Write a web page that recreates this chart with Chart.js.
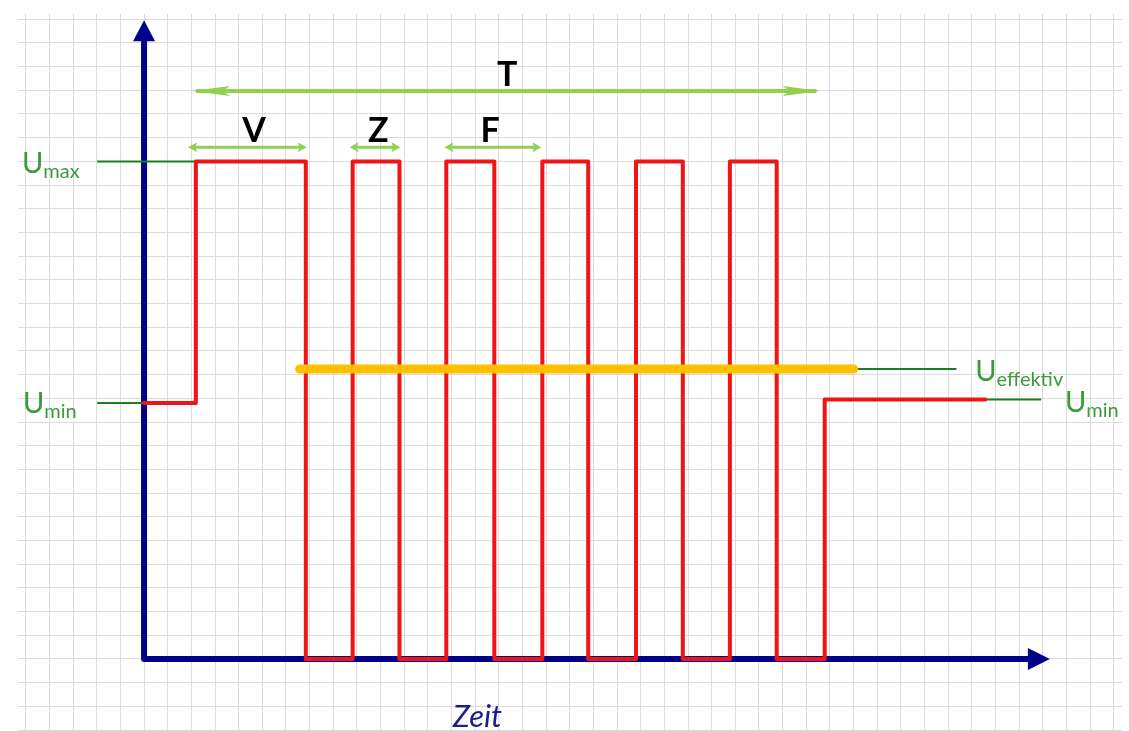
<!DOCTYPE html>
<html>
<head>
<meta charset="utf-8">
<script src="https://cdn.jsdelivr.net/npm/chart.js@4.4.0/dist/chart.umd.min.js"></script>
<style>
    html, body { margin: 0; padding: 0; background: #fff; }
    #wrap { width: 1129px; height: 731px; position: relative; }
</style>
</head>
<body>
<div id="wrap"><canvas id="chart"></canvas></div>
<script>
// Werte in Kästchen (Rasterzellen) ab Ursprung der Achsen
var waveTimes  = [0, 2.19, 6.84, 8.82, 10.8, 12.78, 14.81, 16.84, 18.78, 20.8, 22.78, 24.77, 26.75, 28.78, 35.57];
var waveLevels = [10.8, 21, 0, 21, 0, 21, 0, 21, 0, 21, 0, 21, 0, 10.95, 10.95];

var effLevel = 12.24;
var effStart = 6.58;
var effEnd = 30.0;

// dunkelgrüne Hilfslinien (Umax, Umin, Ueffektiv, Umin rechts)
var refStarts = [-1.98, -1.98, 30.0, 35.57];
var refEnds   = [2.19, 0, 34.35, 37.93];
var refLevels = [21, 10.8, 12.24, 10.95];

// Beschriftung der Spannungen
var levelMain = ['U', 'U', 'U', 'U'];
var levelSub  = ['max', 'min', 'effektiv', 'min'];
var levelX    = [-5.16, -5.12, 35.14, 38.94];
var levelY    = [20.5, 10.38, 11.73, 10.42];

// Zeitspannen-Pfeile T, V, Z, F
var spanNames  = ['T', 'V', 'Z', 'F'];
var spanStarts = [2.03, 1.86, 8.69, 12.7];
var spanEnds   = [28.6, 6.88, 10.84, 16.8];
var spanLevels = [23.97, 21.6, 21.6, 21.6];
var spanLabelX = [15.35, 4.65, 9.9, 14.63];

var axisTipX = 38.3;
var axisTipY = 26.96;
var axisTitle = 'Zeit';
var axisTitleX = 13.05;
var axisTitleY = -2.87;

var NAVY = '#000088';
var LIGHTGREEN = '#92d050';

function intTicks(scale) {
    var t = [];
    for (var v = Math.ceil(scale.min); v <= Math.floor(scale.max); v++) t.push({ value: v });
    scale.ticks = t;
}

var wavePoints = [];
for (var i = 0; i < waveTimes.length; i++) {
    wavePoints.push({ x: waveTimes[i], y: waveLevels[i] });
}

var datasets = [];
// Effektivwert (oben drüber)
datasets.push({
    data: [{ x: effStart, y: effLevel }, { x: effEnd, y: effLevel }],
    borderColor: '#ffc000',
    borderWidth: 9,
    borderCapStyle: 'round'
});
// Rechtecksignal
datasets.push({
    data: wavePoints,
    stepped: 'before',
    borderColor: '#f01414',
    borderWidth: 4,
    borderJoinStyle: 'round',
    borderCapStyle: 'round'
});
for (var i = 0; i < refStarts.length; i++) {
    datasets.push({
        data: [{ x: refStarts[i], y: refLevels[i] }, { x: refEnds[i], y: refLevels[i] }],
        borderColor: '#1e7d1e',
        borderWidth: 2
    });
}

function arrowHead(ctx, tipX, tipY, dir, len, half) {
    ctx.beginPath();
    ctx.moveTo(tipX, tipY);
    ctx.lineTo(tipX - dir * len, tipY - half);
    ctx.lineTo(tipX - dir * len * 0.8, tipY);
    ctx.lineTo(tipX - dir * len, tipY + half);
    ctx.closePath();
    ctx.fill();
}

var drawings = {
    id: 'drawings',
    beforeDatasetsDraw: function(chart) {
        var ctx = chart.ctx;
        var xs = chart.scales.x, ys = chart.scales.y;
        var ox = xs.getPixelForValue(0), oy = ys.getPixelForValue(0);
        var tx = xs.getPixelForValue(axisTipX), ty = ys.getPixelForValue(axisTipY);
        ctx.save();
        ctx.strokeStyle = NAVY;
        ctx.fillStyle = NAVY;
        ctx.lineWidth = 6;
        ctx.lineJoin = 'round';
        ctx.beginPath();
        ctx.moveTo(ox, ty + 18);
        ctx.lineTo(ox, oy);
        ctx.lineTo(tx - 18, oy);
        ctx.stroke();
        // Pfeilspitzen
        ctx.beginPath();
        ctx.moveTo(ox, ty);
        ctx.lineTo(ox - 11, ty + 21);
        ctx.lineTo(ox + 11, ty + 21);
        ctx.closePath();
        ctx.fill();
        ctx.beginPath();
        ctx.moveTo(tx, oy);
        ctx.lineTo(tx - 22, oy - 11);
        ctx.lineTo(tx - 22, oy + 11);
        ctx.closePath();
        ctx.fill();
        ctx.restore();
    },
    afterDatasetsDraw: function(chart) {
        var ctx = chart.ctx;
        var xs = chart.scales.x, ys = chart.scales.y;
        ctx.save();

        // Zeitspannen
        for (var i = 0; i < spanNames.length; i++) {
            var x1 = xs.getPixelForValue(spanStarts[i]);
            var x2 = xs.getPixelForValue(spanEnds[i]);
            var y = ys.getPixelForValue(spanLevels[i]);
            var big = i === 0;
            var len = big ? 38 : 9;
            var half = 5;
            ctx.strokeStyle = LIGHTGREEN;
            ctx.fillStyle = LIGHTGREEN;
            ctx.lineWidth = big ? 4 : 3;
            ctx.beginPath();
            ctx.moveTo(x1 + 4, y);
            ctx.lineTo(x2 - 4, y);
            ctx.stroke();
            arrowHead(ctx, x1, y, -1, len, half);
            arrowHead(ctx, x2, y, 1, len, half);

            ctx.fillStyle = '#000';
            ctx.font = 'bold 34px Lato';
            ctx.textAlign = 'center';
            ctx.textBaseline = 'alphabetic';
            ctx.fillText(spanNames[i], xs.getPixelForValue(spanLabelX[i]), y - 5);
        }

        // U-Beschriftungen
        ctx.fillStyle = '#3c9a3c';
        ctx.textAlign = 'left';
        for (var i = 0; i < levelMain.length; i++) {
            var px = xs.getPixelForValue(levelX[i]);
            var py = ys.getPixelForValue(levelY[i]);
            ctx.font = '29px Lato';
            ctx.fillText(levelMain[i], px, py);
            var w = ctx.measureText(levelMain[i]).width;
            ctx.font = '20px Lato';
            ctx.fillText(levelSub[i], px + w, py + 5);
        }

        // Achsentitel
        ctx.fillStyle = '#1c1c8c';
        ctx.font = 'italic 31px Lato';
        ctx.fillText(axisTitle, xs.getPixelForValue(axisTitleX), ys.getPixelForValue(axisTitleY));
        ctx.restore();
    }
};

new Chart(document.getElementById('chart'), {
    type: 'line',
    data: { datasets: datasets },
    options: {
        responsive: true,
        maintainAspectRatio: false,
        animation: false,
        layout: { padding: { left: 18, right: 7, top: 14, bottom: 0 } },
        elements: { point: { radius: 0 } },
        plugins: { legend: { display: false }, tooltip: { enabled: false } },
        scales: {
            x: {
                type: 'linear', min: -5.33, max: 41.35,
                afterBuildTicks: intTicks,
                grid: { color: '#dcdcdc', drawTicks: false },
                border: { display: false },
                ticks: { display: false }
            },
            y: {
                type: 'linear', min: -3.04, max: 27.22,
                afterBuildTicks: intTicks,
                grid: { color: '#dcdcdc', drawTicks: false },
                border: { display: false },
                ticks: { display: false }
            }
        }
    },
    plugins: [drawings]
});
</script>
</body>
</html>
